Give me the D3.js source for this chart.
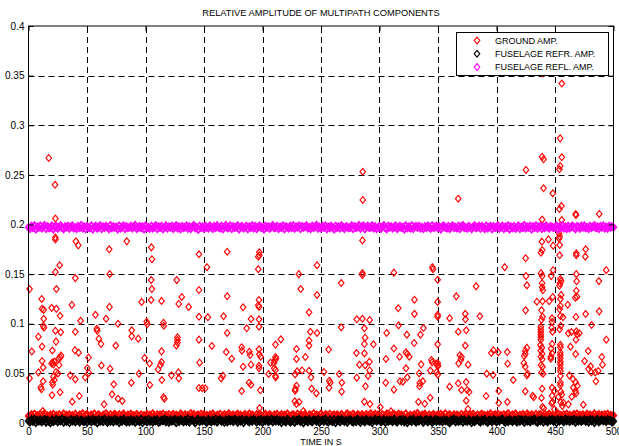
<!DOCTYPE html>
<html><head><meta charset="utf-8">
<script src="https://cdn.jsdelivr.net/npm/d3@7"></script>
<style>
html,body{margin:0;padding:0;background:#fff;}
svg{display:block;font-family:"Liberation Sans",Arial,Helvetica,sans-serif;}
</style></head>
<body>
<svg id="chart" width="619" height="446"></svg>
<script>
// ---------------- DATA ----------------
const chartTitle = "RELATIVE AMPLITUDE OF MULTIPATH COMPONENTS";
const xLabel = "TIME IN S";
const seriesNames = ["GROUND AMP.", "FUSELAGE REFR. AMP.", "FUSELAGE REFL. AMP."];
const seriesColors = ["#ff0000", "#000000", "#ff00ff"];
const xTicks = [0, 50, 100, 150, 200, 250, 300, 350, 400, 450, 500];
const yTicks = [0, 0.05, 0.1, 0.15, 0.2, 0.25, 0.3, 0.35, 0.4];
const yTickLabels = ["0", "0.05", "0.1", "0.15", "0.2", "0.25", "0.3", "0.35", "0.4"];

// sampling instants of the dense bands (every 1.25 s, 401 samples)
const bandTimes = d3.range(0, 500.001, 1.25);

// GROUND AMP. – low-level band
const groundBand = [
.0071,.0058,.0086,.0063,.0092,.0049,.0077,.0068,.0089,.0055,
.0080,.0095,.0052,.0074,.0061,.0083,.0066,.0090,.0047,.0078,
.0064,.0087,.0059,.0072,.0094,.0056,.0081,.0069,.0085,.0051,
.0076,.0062,.0091,.0067,.0053,.0084,.0073,.0096,.0060,.0079,
.0088,.0054,.0070,.0082,.0065,.0093,.0048,.0075,.0086,.0063,
.0057,.0081,.0068,.0097,.0071,.0059,.0087,.0064,.0078,.0090,
.0073,.0050,.0085,.0062,.0079,.0093,.0066,.0054,.0082,.0070,
.0091,.0067,.0076,.0058,.0088,.0072,.0061,.0084,.0052,.0077,
.0065,.0089,.0056,.0080,.0069,.0095,.0074,.0060,.0086,.0063,
.0083,.0071,.0092,.0055,.0078,.0066,.0087,.0049,.0075,.0090,
.0059,.0081,.0070,.0064,.0094,.0077,.0053,.0085,.0068,.0079,
.0072,.0096,.0061,.0088,.0057,.0074,.0082,.0067,.0091,.0054,
.0086,.0063,.0078,.0050,.0083,.0069,.0093,.0076,.0060,.0081,
.0068,.0090,.0055,.0073,.0087,.0062,.0079,.0095,.0065,.0071,
.0084,.0058,.0077,.0092,.0066,.0080,.0051,.0074,.0089,.0061,
.0075,.0094,.0064,.0082,.0070,.0056,.0088,.0067,.0085,.0078,
.0062,.0079,.0091,.0059,.0076,.0086,.0071,.0048,.0083,.0069,
.0090,.0066,.0073,.0087,.0054,.0081,.0064,.0094,.0072,.0058,
.0077,.0085,.0060,.0070,.0092,.0063,.0080,.0075,.0055,.0088,
.0067,.0052,.0084,.0078,.0065,.0097,.0069,.0082,.0074,.0061,
.0093,.0070,.0057,.0086,.0079,.0066,.0090,.0053,.0076,.0084,
.0060,.0083,.0074,.0068,.0089,.0072,.0056,.0081,.0095,.0065,
.0078,.0062,.0092,.0071,.0058,.0085,.0077,.0064,.0087,.0073,
.0055,.0088,.0069,.0080,.0096,.0061,.0074,.0090,.0067,.0082,
.0071,.0059,.0086,.0063,.0078,.0093,.0052,.0079,.0070,.0085,
.0089,.0067,.0075,.0091,.0060,.0083,.0072,.0057,.0094,.0066,
.0064,.0080,.0058,.0077,.0087,.0069,.0098,.0073,.0062,.0081,
.0076,.0092,.0070,.0054,.0084,.0065,.0079,.0088,.0059,.0074,
.0083,.0061,.0090,.0072,.0067,.0095,.0056,.0078,.0086,.0063,
.0069,.0085,.0053,.0081,.0074,.0060,.0089,.0066,.0077,.0093,
.0058,.0075,.0087,.0064,.0091,.0071,.0062,.0084,.0050,.0080,
.0092,.0068,.0079,.0057,.0082,.0076,.0095,.0063,.0073,.0086,
.0065,.0090,.0061,.0078,.0054,.0087,.0070,.0081,.0096,.0059,
.0074,.0083,.0067,.0093,.0072,.0055,.0080,.0069,.0088,.0076,
.0061,.0094,.0077,.0066,.0085,.0073,.0058,.0090,.0064,.0082,
.0087,.0056,.0072,.0089,.0063,.0079,.0092,.0068,.0075,.0053,
.0070,.0084,.0097,.0060,.0078,.0066,.0086,.0074,.0091,.0062,
.0081,.0064,.0075,.0088,.0057,.0093,.0069,.0080,.0067,.0085,
.0059,.0077,.0090,.0071,.0083,.0062,.0076,.0095,.0058,.0073,
.0088,.0066,.0080,.0054,.0087,.0072,.0091,.0065,.0079,.0070,
.0076];

// GROUND AMP. – scattered reflections [time, amplitude]
const groundScatter = [
[0.9,0.135],[0.9,0.045],[2.8,0.072],[8.5,0.087],[8.5,0.051],[10.5,0.036],[11.1,0.034],[11.3,0.125],[11.6,0.115],[11.6,0.077],
[11.6,0.0625],[12.2,0.012],[12.5,0.056],[12.5,0.042],[12.6,0.098],[13.2,0.096],[13,0.114],[13,0.105],[17.3,0.267],[19.8,0.116],
[19.8,0.060],[20.1,0.028],[20.4,0.073],[20.4,0.061],[20.4,0.041],[20.7,0.0386],[21.3,0.059],[21.3,0.0467],[22.1,0.0618],[22.1,0.0433],
[22.7,0.240],[23,0.206],[23,0.187],[23,0.185],[23,0.152],[23,0.093],[23.5,0.082],[23.5,0.0514],[23.8,0.135],[23.8,0.115],
[25.2,0.050],[25.8,0.065],[26.1,0.0584],[26.6,0.159],[27,0.108],[27,0.031],[27.2,0.066],[27.5,0.0914],[27.8,0.068],[35.7,0.048],
[37.1,0.119],[37.4,0.0215],[39.7,0.0733],[40,0.146],[40,0.092],[40,0.044],[40.5,0.183],[42.5,0.179],[42.8,0.0709],[43.4,0.0272],
[44.5,0.103],[48.5,0.046],[50.2,0.0554],[51.3,0.066],[51.6,0.0504],[57.2,0.109],[58.4,0.095],[58.7,0.093],[60.1,0.085],[62,0.0796],
[62.3,0.058],[64.6,0.0188],[66.3,0.105],[69,0.175],[69.2,0.117],[69.4,0.150],[69.7,0.0547],[71.4,0.0289],[72.9,0.039],[74.6,0.078],
[76.5,0.100],[76.5,0.0245],[80.2,0.0222],[84,0.183],[87.9,0.0406],[88.2,0.0934],[88.2,0.0873],[93.8,0.085],[94.4,0.0497],[96.7,0.122],
[99.2,0.0655],[101,0.102],[101.5,0.0995],[103.5,0.060],[103.7,0.0383],[104.8,0.124],[104.9,0.144],[105,0.177],[105.4,0.135],[105.5,0.165],
[110.8,0.054],[112.8,0.0584],[113.7,0.123],[113.7,0.0722],[113.7,0.0615],[114,0.0433],[115.4,0.101],[115.6,0.098],[115.4,0.0259],[116.2,0.0245],
[122.2,0.048],[126.4,0.078],[126.7,0.144],[127.3,0.0864],[127.3,0.0838],[127.3,0.081],[128.1,0.051],[128.4,0.120],[128.4,0.045],[131,0.127],
[136.9,0.117],[145.7,0.170],[145.7,0.134],[145.7,0.107],[145.7,0.084],[146.3,0.0608],[145.7,0.0353],[148.5,0.035],[151,0.035],
[152.5,0.157],[153.3,0.1065],[156.7,0.0776],[164.7,0.045],[166.1,0.0477],[166.7,0.1075],[169,0.0715],[169.8,0.1726],[169.8,0.1277],[169.8,0.0907],
[173.7,0.0648],[182.2,0.0763],[182.5,0.0729],[182.2,0.0322],[183.4,0.1166],[183.4,0.0567],[186.5,0.0954],[188.5,0.0406],[188.8,0.0718],[189.4,0.0685],
[190.2,0.1048],[190.2,0.0588],[190.2,0.0386],[196.4,0.1676],[196.4,0.155],[196.4,0.1186],[197,0.124],[197,0.1169],[197,0.1045],[197,0.097],
[197,0.0742],[197,0.0577],[197,0.0551],[197.3,0.172],[197.3,0.169],[197.3,0.0692],[197.5,0.0151],[198.1,0.033],[198.4,0.0668],[205.2,0.0494],
[206.9,0.0608],[209.8,0.0605],[210,0.0551],[210.6,0.0632],[211.1,0.079],[211.1,0.0665],[211.1,0.0534],[211.1,0.0474],[211.3,0.046],[211.5,0.0648],
[215.7,0.0843],[227.6,0.0219],[227.9,0.049],[227.9,0.0326],[228.1,0.0343],[229,0.0746],[229,0.0645],[229,0.0376],[229,0.0191],[229.6,0.052],
[231,0.150],[231.3,0.0212],[232.7,0.135],[233.8,0.053],[235,0.0121],[236.6,0.0665],[239.8,0.1115],[239.8,0.083],[239.8,0.078],[239.8,0.0527],
[240.9,0.092],[241.5,0.046],[242,0.0346],[246,0.0299],[246.6,0.159],[246.6,0.129],[246.6,0.0907],[252.5,0.0514],[256.5,0.074],[256.8,0.0356],
[257.1,0.0426],[257.9,0.0406],[265.5,0.0494],[267.3,0.141],[267.3,0.0964],[267.6,0.0316],[267.8,0.0406],[280.3,0.0705],[280.6,0.1045],[280.6,0.0457],
[282.9,0.0588],[285.4,0.184],[285.4,0.151],[285.4,0.149],[285.4,0.105],[285.7,0.2532],[285.7,0.2247],[287.1,0.0954],[287.1,0.0796],[287.1,0.0702],
[287.1,0.0215],[287.7,0.086],[287.7,0.0581],[288,0.037],[290.2,0.0474],[291.4,0.0618],[291.6,0.1038],[291.6,0.053],[291.9,0.0191],[294.8,0.0793],
[300.7,0.0158],[305.3,0.0406],[305.5,0.0645],[306.1,0.0907],[309.8,0.0118],[312.3,0.1515],[312.3,0.075],[312.3,0.0336],[316,0.1156],[316.3,0.0984],
[317.2,0.0668],[317.5,0.042],[320,0.0416],[322.6,0.0712],[322.6,0.0551],[323.4,0.089],[323.7,0.0695],[323.7,0.046],[325.4,0.0668],[329.6,0.0806],
[329.9,0.1242],[329.9,0.110],[333.3,0.0212],[333.9,0.050],[334.2,0.037],[334.4,0.0403],[335,0.089],[335.6,0.0591],[337.6,0.0957],[337,0.042],
[338.7,0.0194],[343.3,0.0255],[343.5,0.0528],[344.4,0.0635],[345,0.0611],[345.2,0.157],[345.7,0.155],[348.3,0.0598],[348.9,0.0514],[349.7,0.1444],
[349.7,0.122],[349.7,0.1091],[349.7,0.1071],[349.7,0.0793],[349.7,0.0605],[349.7,0.0581],[349.7,0.0487],[350,0.0574],[359.9,0.1055],[359.9,0.0366],
[365.6,0.1276],[367.3,0.226],[367.3,0.092],[367.3,0.040],[367.6,0.0601],[368.7,0.0682],[370.1,0.0665],[369.6,0.0638],[370.1,0.0332],[373.3,0.110],
[373.3,0.078],[373.5,0.1045],[374.1,0.0934],[374.1,0.0413],[374.1,0.0225],[374.9,0.0332],[375.6,0.0141],[375.8,0.0588],[376.6,0.0312],[382.6,0.1377],
[385.8,0.1075],[391.1,0.0272],[391.7,0.0497],[395.6,0.0705],[397.1,0.0484],[397.3,0.0733],[401.6,0.0712],[401.9,0.0322],[401.9,0.0201],[407,0.157],
[409.2,0.0715],[409.3,0.0212],[409.5,0.0598],[414.3,0.0433],[423.4,0.0605],[423.7,0.0675],[424.6,0.0729],[424.6,0.0698],[424.6,0.0567],[424.6,0.0319],
[424.9,0.166],[424.9,0.1135],[425.2,0.148],[425.2,0.255],[426,0.1387],[426,0.0759],[426,0.048],[426.6,0.0497],[430.9,0.0275],[431.8,0.0259],
[434.5,0.1222],[437.9,0.097],[437.9,0.0943],[437.9,0.0917],[437.9,0.089],[437.9,0.0866],[437.9,0.084],[437.6,0.0786],[437.9,0.0729],[437.9,0.0668],
[438.1,0.151],[438,0.1716],[438.1,0.0584],[438.5,0.1135],[438.5,0.104],[438.5,0.051],[438.5,0.0252],[438.8,0.0759],[438.8,0.1827],[439,0.205],
[439,0.1743],[439,0.148],[439,0.1408],[439,0.1367],[439,0.0698],[439,0.0642],[439,0.0346],[439,0.3523],[439,0.2683],[439.3,0.1226],
[439.3,0.107],[439.3,0.0567],[439.3,0.0161],[439.6,0.1337],[439.9,0.0497],[440.2,0.2657],[440.2,0.2365],[440.4,0.0148],[444.4,0.185],[445,0.1226],
[446.4,0.0668],[446.4,0.0648],[446.7,0.148],[446.7,0.0749],[447.2,0.096],[447.2,0.0198],[447.5,0.1055],[447.5,0.102],[447.5,0.0796],[447.5,0.0702],
[447.5,0.0356],[447.5,0.0275],[447.8,0.092],[447.8,0.0212],[448.1,0.127],[448.1,0.2314],[448.4,0.1787],[448.4,0.154],[449.5,0.0326],[449.5,0.0138],
[452.9,0.0265],[453.5,0.191],[453.5,0.186],[453.8,0.1383],[453.8,0.2556],[453.8,0.2156],[454,0.188],[454,0.1793],[454,0.169],[454,0.1146],
[454,0.0944],[454.3,0.1408],[454.4,0.2868],[454.4,0.259],[454.6,0.145],[454.6,0.125],[454.6,0.118],[454.6,0.1078],[454.6,0.0789],[454.6,0.0763],
[454.6,0.0709],[454.6,0.0682],[454.6,0.0652],[454.6,0.0618],[454.6,0.0591],[454.6,0.0554],[454.6,0.0524],[454.6,0.0474],[454.6,0.0406],[454.6,0.038],
[454.9,0.098],[454.9,0.0208],[455,0.0316],[455.2,0.143],[455.2,0.129],[455.5,0.2186],[455.8,0.342],[455.8,0.2677],[455.8,0.2045],[455.8,0.0285],
[456.3,0.0171],[456.8,0.1065],[457.2,0.0205],[460.9,0.1192],[461.4,0.0904],[461.4,0.0188],[462.3,0.048],[463.2,0.0769],[464,0.0917],[464.3,0.0265],
[465.4,0.0443],[465.7,0.0356],[467.4,0.1263],[467.4,0.0322],[467.6,0.0695],[467.6,0.041],[467.7,0.2106],[467.9,0.2095],[467.9,0.1068],[467.9,0.084],
[467.9,0.0299],[468.2,0.171],[468.2,0.169],[468.2,0.150],[468.2,0.1333],[468.2,0.0924],[468.5,0.1428],[468.8,0.1273],[468.8,0.0894],[469.1,0.0376],
[470.8,0.0904],[474.2,0.0184],[475.3,0.0625],[475.9,0.1676],[476.2,0.175],[476.2,0.1098],[478.4,0.0725],[478.7,0.0544],[480.4,0.0571],[481,0.051],
[481.3,0.0987],[484.4,0.051],[484.9,0.042],[486.9,0.0524],[487.5,0.143],[487.8,0.2106],[487.8,0.1125],[490,0.0665],[490.6,0.0588],[493.8,0.154],
[493.8,0.084]];

// FUSELAGE REFR. AMP.
const refrBand = [
.0021,.0008,.0035,.0014,.0040,.0003,.0027,.0018,.0032,.0010,
.0025,.0038,.0006,.0030,.0016,.0001,.0033,.0012,.0023,.0037,
.0009,.0028,.0019,.0042,.0005,.0031,.0015,.0024,.0002,.0036,
.0017,.0029,.0011,.0039,.0022,.0007,.0034,.0020,.0013,.0026,
.0004,.0032,.0024,.0010,.0037,.0018,.0028,.0001,.0035,.0015,
.0030,.0012,.0040,.0021,.0006,.0033,.0016,.0027,.0009,.0038,
.0019,.0025,.0003,.0031,.0014,.0041,.0022,.0008,.0029,.0011,
.0036,.0017,.0026,.0005,.0034,.0020,.0013,.0039,.0002,.0023,
.0028,.0010,.0037,.0016,.0024,.0007,.0032,.0019,.0035,.0004,
.0015,.0030,.0021,.0040,.0011,.0027,.0006,.0033,.0018,.0025,
.0038,.0003,.0029,.0013,.0036,.0022,.0009,.0031,.0016,.0042,
.0007,.0024,.0034,.0019,.0001,.0028,.0039,.0012,.0026,.0020,
.0032,.0014,.0005,.0037,.0023,.0010,.0030,.0017,.0041,.0008,
.0027,.0035,.0015,.0022,.0004,.0033,.0011,.0038,.0020,.0029,
.0013,.0040,.0025,.0006,.0031,.0018,.0036,.0002,.0024,.0034,
.0021,.0009,.0032,.0016,.0039,.0026,.0007,.0030,.0014,.0037,
.0005,.0028,.0019,.0035,.0012,.0023,.0041,.0010,.0033,.0017,
.0036,.0015,.0027,.0003,.0030,.0020,.0011,.0038,.0025,.0008,
.0018,.0034,.0006,.0029,.0022,.0040,.0013,.0024,.0001,.0031,
.0026,.0011,.0037,.0019,.0009,.0032,.0028,.0015,.0039,.0005,
.0023,.0030,.0014,.0042,.0017,.0007,.0034,.0021,.0012,.0036,
.0002,.0025,.0033,.0010,.0038,.0024,.0016,.0029,.0006,.0031,
.0035,.0018,.0008,.0027,.0013,.0040,.0020,.0004,.0032,.0022,
.0011,.0037,.0026,.0015,.0030,.0003,.0024,.0039,.0017,.0028,
.0033,.0009,.0021,.0036,.0005,.0029,.0014,.0031,.0023,.0012,
.0040,.0019,.0007,.0025,.0034,.0016,.0038,.0010,.0027,.0002,
.0020,.0032,.0013,.0041,.0022,.0008,.0030,.0018,.0035,.0024,
.0006,.0028,.0037,.0011,.0026,.0033,.0004,.0021,.0039,.0015,
.0031,.0017,.0024,.0009,.0036,.0019,.0028,.0013,.0001,.0034,
.0025,.0040,.0010,.0029,.0016,.0022,.0037,.0007,.0032,.0020,
.0014,.0035,.0023,.0003,.0030,.0012,.0027,.0038,.0018,.0008,
.0033,.0021,.0039,.0015,.0006,.0031,.0024,.0011,.0036,.0026,
.0009,.0029,.0017,.0034,.0042,.0020,.0005,.0028,.0013,.0037,
.0022,.0012,.0031,.0025,.0008,.0038,.0016,.0033,.0027,.0004,
.0035,.0018,.0026,.0010,.0032,.0023,.0040,.0014,.0006,.0030,
.0019,.0037,.0007,.0029,.0021,.0011,.0034,.0024,.0039,.0015,
.0028,.0002,.0036,.0017,.0031,.0025,.0009,.0041,.0020,.0033,
.0012,.0030,.0022,.0038,.0005,.0027,.0018,.0034,.0014,.0024,
.0037,.0016,.0029,.0008,.0035,.0021,.0032,.0003,.0026,.0039,
.0010,.0023,.0033,.0019,.0027,.0013,.0036,.0022,.0030,.0007,
.0018];

// FUSELAGE REFL. AMP.
const reflBand = [
.1972,.1958,.1985,.1966,.1990,.1953,.1978,.1969,.1987,.1961,
.1975,.1992,.1956,.1981,.1964,.1970,.1988,.1952,.1977,.1983,
.1960,.1974,.1991,.1967,.1955,.1980,.1973,.1986,.1959,.1976,
.1989,.1963,.1971,.1957,.1984,.1968,.1993,.1962,.1979,.1954,
.1982,.1970,.1965,.1988,.1951,.1975,.1986,.1960,.1973,.1990,
.1957,.1978,.1967,.1984,.1971,.1955,.1992,.1964,.1980,.1969,
.1976,.1953,.1987,.1962,.1974,.1989,.1958,.1981,.1966,.1972,
.1985,.1961,.1977,.1994,.1956,.1970,.1983,.1965,.1979,.1952,
.1988,.1968,.1973,.1959,.1986,.1963,.1975,.1991,.1957,.1980,
.1966,.1984,.1954,.1972,.1989,.1961,.1978,.1969,.1985,.1958,
.1974,.1990,.1962,.1979,.1955,.1983,.1967,.1971,.1987,.1960,
.1981,.1956,.1976,.1992,.1964,.1973,.1950,.1986,.1968,.1977,
.1959,.1985,.1970,.1963,.1988,.1975,.1957,.1982,.1966,.1991,
.1972,.1961,.1984,.1954,.1978,.1993,.1965,.1970,.1987,.1958,
.1980,.1967,.1974,.1989,.1953,.1976,.1983,.1962,.1971,.1986,
.1955,.1979,.1968,.1990,.1963,.1982,.1957,.1975,.1988,.1966,
.1973,.1952,.1986,.1969,.1981,.1960,.1977,.1992,.1964,.1970,
.1984,.1958,.1975,.1967,.1989,.1954,.1980,.1971,.1962,.1985,
.1968,.1991,.1960,.1978,.1973,.1987,.1956,.1983,.1969,.1976,
.1990,.1963,.1972,.1957,.1985,.1966,.1979,.1994,.1959,.1974,
.1961,.1982,.1970,.1988,.1955,.1977,.1965,.1984,.1971,.1953,
.1986,.1967,.1979,.1962,.1991,.1973,.1958,.1980,.1975,.1964,
.1970,.1989,.1956,.1983,.1968,.1976,.1992,.1960,.1978,.1987,
.1954,.1974,.1985,.1966,.1972,.1990,.1963,.1981,.1957,.1969,
.1983,.1960,.1977,.1993,.1964,.1955,.1986,.1971,.1979,.1962,
.1975,.1988,.1958,.1970,.1984,.1967,.1974,.1952,.1989,.1965,
.1978,.1963,.1990,.1956,.1976,.1982,.1969,.1985,.1961,.1973,
.1957,.1981,.1967,.1987,.1972,.1959,.1991,.1966,.1975,.1984,
.1964,.1977,.1953,.1980,.1988,.1970,.1962,.1983,.1958,.1976,
.1989,.1966,.1974,.1961,.1985,.1956,.1979,.1992,.1968,.1971,
.1960,.1984,.1972,.1955,.1978,.1990,.1965,.1973,.1986,.1959,
.1982,.1969,.1957,.1988,.1963,.1976,.1984,.1954,.1980,.1967,
.1974,.1991,.1962,.1971,.1985,.1958,.1977,.1966,.1989,.1953,
.1979,.1965,.1983,.1960,.1973,.1987,.1956,.1975,.1968,.1992,
.1963,.1978,.1970,.1986,.1952,.1981,.1967,.1990,.1959,.1974,
.1985,.1957,.1976,.1964,.1989,.1972,.1961,.1983,.1975,.1966,
.1971,.1988,.1955,.1980,.1967,.1993,.1963,.1977,.1958,.1984,
.1962,.1974,.1987,.1969,.1954,.1982,.1976,.1960,.1986,.1970,
.1990,.1965,.1973,.1957,.1984,.1968,.1979,.1991,.1964,.1978,
.1956,.1983,.1971,.1988,.1962,.1975,.1959,.1985,.1969,.1981,
.1973];

// ---------------- DRAW ----------------
(function () {
const svg = d3.select("#chart");
const X0 = 28.5, X1 = 613.5, Y0 = 423, Y1 = 26;
const x = d3.scaleLinear().domain([0, 500]).range([X0, X1]);
const y = d3.scaleLinear().domain([0, 0.4]).range([Y0, Y1]);
const fontSize = 9;

// grid (beneath data)
const grid = svg.append("g").attr("stroke", "#000").attr("stroke-width", 1)
  .attr("stroke-dasharray", "6,4").attr("fill", "none");
grid.selectAll("line.v").data(xTicks.slice(1, -1)).join("line")
  .attr("x1", d => Math.round(x(d)) + 0.5).attr("x2", d => Math.round(x(d)) + 0.5)
  .attr("y1", Y0).attr("y2", Y1);
grid.selectAll("line.h").data(yTicks.slice(1, -1)).join("line")
  .attr("y1", d => Math.round(y(d)) + 0.5).attr("y2", d => Math.round(y(d)) + 0.5)
  .attr("x1", X0).attr("x2", X1);

// diamond marker
const diamond = "M0,-3.4L2.8,0L0,3.4L-2.8,0Z";
function drawSeries(points, color, sw) {
  svg.append("g").attr("fill", "none").attr("stroke", color).attr("stroke-width", sw)
    .selectAll("path").data(points).join("path")
    .attr("d", diamond)
    .attr("transform", d => `translate(${x(d[0])},${y(d[1])})`);
}
// dense sample runs are drawn with slightly heavier outlines so they merge like the original raster
drawSeries(bandTimes.map((t, i) => [t, groundBand[i]]), seriesColors[0], 1.7);
drawSeries(groundScatter, seriesColors[0], 1.15);
drawSeries(bandTimes.map((t, i) => [t, refrBand[i]]), seriesColors[1], 1.7);
drawSeries(bandTimes.map((t, i) => [t, reflBand[i]]), seriesColors[2], 1.7);

// axes
const axG = svg.append("g").style("font-size", fontSize + "px");
axG.append("g").attr("transform", `translate(0,${Y0})`)
  .call(d3.axisBottom(x).tickValues(xTicks).tickSize(-5).tickPadding(5).tickFormat(d3.format("d")));
axG.append("g").attr("transform", `translate(0,${Y1})`)
  .call(d3.axisTop(x).tickValues(xTicks).tickSize(-5).tickFormat(""));
axG.append("g").attr("transform", `translate(${X0},0)`)
  .call(d3.axisLeft(y).tickValues(yTicks).tickSize(-5).tickPadding(4).tickFormat((d, i) => yTickLabels[i]));
axG.append("g").attr("transform", `translate(${X1},0)`)
  .call(d3.axisRight(y).tickValues(yTicks).tickSize(-5).tickFormat(""));
axG.selectAll(".domain").remove();
axG.selectAll("text").attr("fill", "#000").style("font-family", "'Liberation Sans',Arial,sans-serif");
axG.selectAll(".tick line").attr("stroke", "#000");
// box
svg.append("rect").attr("x", X0).attr("y", Y1).attr("width", X1 - X0).attr("height", Y0 - Y1)
  .attr("fill", "none").attr("stroke", "#000").attr("stroke-width", 1);

// title & label
svg.append("text").attr("x", (X0 + X1) / 2).attr("y", 16).attr("text-anchor", "middle")
  .style("font-size", "9.3px").text(chartTitle);
svg.append("text").attr("x", (X0 + X1) / 2).attr("y", 445).attr("text-anchor", "middle")
  .style("font-size", fontSize + "px").text(xLabel);

// legend
const lg = svg.append("g");
lg.append("rect").attr("x", 456.5).attr("y", 32.5).attr("width", 152).attr("height", 43)
  .attr("fill", "#fff").attr("stroke", "#000").attr("stroke-width", 1);
seriesNames.forEach((name, i) => {
  const yy = 40.5 + i * 13.3;
  lg.append("path").attr("d", diamond).attr("fill", "none").attr("stroke", seriesColors[i])
    .attr("stroke-width", 1.15).attr("transform", `translate(477,${yy})`);
  lg.append("text").attr("x", 495).attr("y", yy + 3.2).style("font-size", fontSize + "px").text(name);
});
})();
</script>
</body></html>
